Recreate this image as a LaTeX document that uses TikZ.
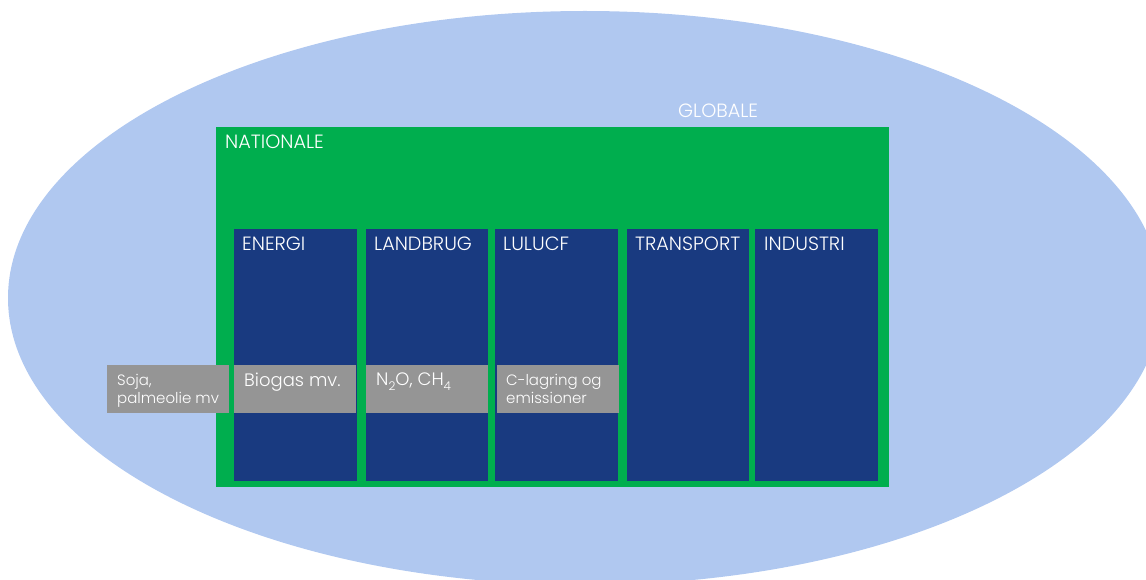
\documentclass[tikz,border=0pt]{standalone}
\usepackage{fontspec}
\setmainfont{Poppins Light}
\definecolor{globeblue}{HTML}{B0C8F0}
\definecolor{natgreen}{HTML}{00AE4E}
\definecolor{secblue}{HTML}{193A80}
\definecolor{boxgray}{HTML}{959595}
\newcommand{\mysubs}[1]{\raisebox{-5pt}{\fontsize{12}{12}\selectfont #1}}
\tikzset{
  region/.style={draw=none, inner sep=0pt, outer sep=0pt, anchor=north west},
  natbox/.style={region, fill=natgreen},
  secbox/.style={region, fill=secblue, minimum width=123pt, minimum height=252pt},
  graybox/.style={region, fill=boxgray, minimum height=48pt},
  biglbl/.style={inner sep=0pt, anchor=base west, text=white, font=\fontsize{18}{20}\selectfont},
  caplbl/.style={biglbl, font=\fontsize{19.2}{21}\selectfont},
  smalllbl/.style={inner sep=0pt, anchor=base west, text=white, font=\fontsize{15}{18}\selectfont},
}
\begin{document}
\begin{tikzpicture}[x=1pt,y=-1pt]
\useasboundingbox (0,0) rectangle (1146,580);
\clip (0,0) rectangle (1146,580);
\fill[globeblue] (585,298) ellipse [x radius=577, y radius=287];
\node[caplbl] (globale) at (678,118) {GLOBALE};
\node[natbox, minimum width=673pt, minimum height=360pt] (nat) at (216,127) {};
\node[caplbl] (natlbl) at (225,149) {NATIONALE};
\node[secbox] (energi) at (234,229) {};
\node[secbox, minimum width=122pt] (landbrug) at (366,229) {};
\node[secbox] (lulucf) at (495,229) {};
\node[secbox, minimum width=122pt] (transport) at (627,229) {};
\node[secbox] (industri) at (755,229) {};
\node[caplbl] (energilbl) at (242,251) {ENERGI};
\node[caplbl] (landbruglbl) at (374,251) {LANDBRUG};
\node[caplbl] (lulucflbl) at (503,251) {LULUCF};
\node[caplbl] (transportlbl) at (635,251) {TRANSPORT};
\node[caplbl] (industrilbl) at (764,251) {INDUSTRI};
\node[graybox, minimum width=122pt] (soja) at (107,365) {};
\node[graybox, minimum width=122pt] (biogas) at (234,365) {};
\node[graybox, minimum width=122pt] (n2o) at (366,365) {};
\node[graybox, minimum width=122pt] (clag) at (497,365) {};
\node[smalllbl] (sojalbl1) at (117,385) {Soja,};
\node[smalllbl] (sojalbl2) at (117,403) {palmeolie mv};
\node[biglbl] (biogaslbl) at (244,386) {Biogas mv.};
\node[biglbl] (n2olbl) at (376,385) {N\mysubs{2}O, CH\mysubs{4}};
\node[smalllbl] (claglbl1) at (506,385) {C-lagring og};
\node[smalllbl] (claglbl2) at (506,403) {emissioner};
\end{tikzpicture}
\end{document}
